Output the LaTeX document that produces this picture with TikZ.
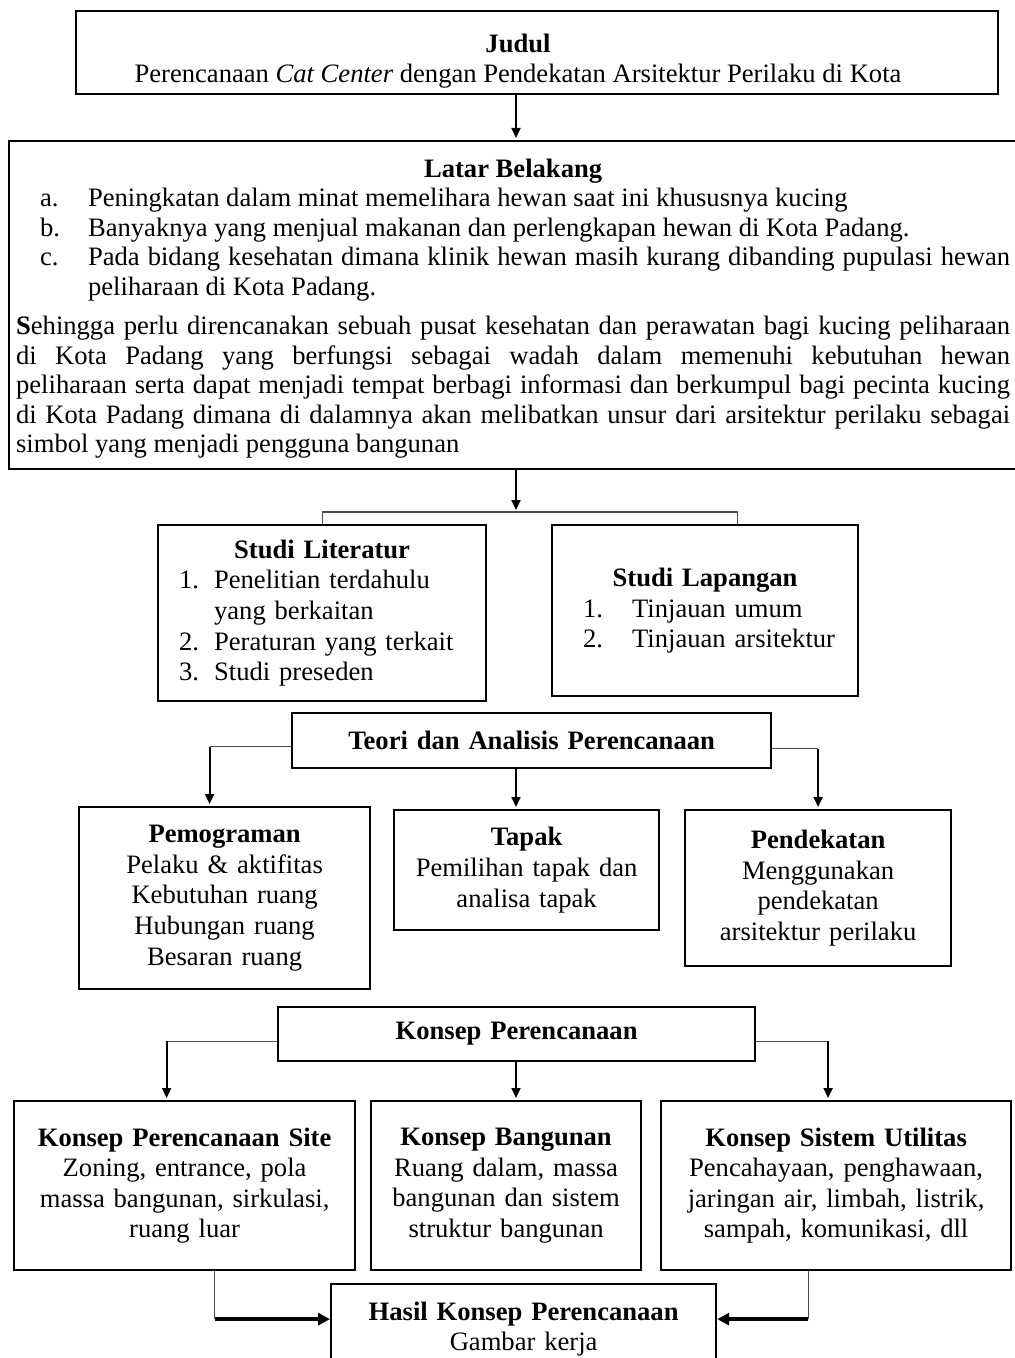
\documentclass[tikz,border=0pt]{standalone}
\usepackage{fontspec}
\setmainfont{Liberation Serif}
\usetikzlibrary{arrows.meta}

\newcommand{\listitem}[4]{\par\noindent\hangindent=#2\hangafter=1\hbox to #2{\hspace*{#1}#3\hfil}#4\par}

\tikzset{
  txt/.style={font=\fontsize{13.3pt}{15.3pt}\selectfont},
  box/.style={txt, draw, line width=1.1pt, inner sep=0pt, anchor=north west},
  link/.style={line width=0.6pt, black!70},
  arr/.style={line width=0.9pt, -{Triangle[length=5pt,width=4.5pt]}, shorten >=1pt},
  bigarr/.style={line width=1.8pt, -{Triangle[length=6pt,width=6pt]}}
}

\begin{document}
\begin{tikzpicture}[x=0.5pt, y=-0.5pt]
\useasboundingbox (0,0) rectangle (1014,1358);

% judul
\node[box, minimum width=461pt, minimum height=41.5pt] (judul) at (75,10) {};
\node[txt, align=center, inner sep=0pt] (judultext) at (518,61)
  {\textbf{Judul}\\Perencanaan \textit{Cat Center} dengan Pendekatan Arsitektur Perilaku di Kota};

\node[box, text width=497pt, inner xsep=3.5pt, minimum height=164pt, align=justify,
  font=\fontsize{13.3pt}{14.75pt}\selectfont] (latar) at (8,140) {%
  \tolerance=10000\hbadness=10000
  {\centering\rule{0pt}{13pt}\textbf{Latar Belakang}\par}
  \listitem{12pt}{36pt}{a.}{Peningkatan dalam minat memelihara hewan saat ini khususnya kucing}
  \listitem{12pt}{36pt}{b.}{Banyaknya yang menjual makanan dan perlengkapan hewan di Kota Padang.}
  \listitem{12pt}{36pt}{c.}{Pada bidang kesehatan dimana klinik hewan masih kurang dibanding pupulasi hewan peliharaan di Kota Padang.}
  \vspace{5pt}\noindent\textbf{S}ehingga perlu direncanakan sebuah pusat kesehatan dan perawatan bagi kucing peliharaan\linebreak
  di Kota Padang yang berfungsi sebagai wadah dalam memenuhi kebutuhan hewan\linebreak
  peliharaan serta dapat menjadi tempat berbagi informasi dan berkumpul bagi pecinta kucing\linebreak
  di Kota Padang dimana di dalamnya akan melibatkan unsur dari arsitektur perilaku sebagai\linebreak
  simbol yang menjadi pengguna bangunan\par};

% studi
\node[box, text width=164pt, minimum height=88pt, align=left] (lit) at (157,524) {%
  {\centering\textbf{Studi Literatur}\par}
  \listitem{10.5pt}{28pt}{1.}{Penelitian terdahulu\newline yang berkaitan}
  \listitem{10.5pt}{28pt}{2.}{Peraturan yang terkait}
  \listitem{10.5pt}{28pt}{3.}{Studi preseden}};
\node[box, text width=153pt, minimum height=85.5pt, align=left] (lap) at (551,524) {%
  {\centering\textbf{Studi Lapangan}\par}
  \listitem{15.5pt}{40pt}{1.}{Tinjauan umum}
  \listitem{15.5pt}{40pt}{2.}{Tinjauan arsitektur}};

% teori dan analisis
\node[box, text width=239.5pt, minimum height=27.5pt, align=center] (teori) at (291,712)
  {\textbf{Teori dan Analisis Perencanaan}};
\node[box, text width=145.5pt, minimum height=91pt, align=center] (pemo) at (78,806)
  {\textbf{Pemograman}\\Pelaku \& aktifitas\\Kebutuhan ruang\\Hubungan ruang\\Besaran ruang};
\node[box, text width=132.5pt, minimum height=60pt, align=center] (tapak) at (393,809)
  {\textbf{Tapak}\\Pemilihan tapak dan\\analisa tapak};
\node[box, text width=133pt, minimum height=78pt, align=center] (pend) at (684,809)
  {\textbf{Pendekatan}\\Menggunakan\\pendekatan\\arsitektur perilaku};

% konsep
\node[box, text width=238.5pt, minimum height=27pt, align=center] (konsep) at (277,1006)
  {\textbf{Konsep Perencanaan}};
\node[box, text width=170.5pt, minimum height=84.5pt, align=center] (site) at (13,1100)
  {\textbf{Konsep Perencanaan Site}\\Zoning, entrance, pola\\massa bangunan, sirkulasi,\\ruang luar};
\node[box, text width=135pt, minimum height=84.5pt, align=center] (bang) at (370,1100)
  {\textbf{Konsep Bangunan}\\Ruang dalam, massa\\bangunan dan sistem\\struktur bangunan};
\node[box, text width=175pt, minimum height=84.5pt, align=center] (util) at (660,1100)
  {\textbf{Konsep Sistem Utilitas}\\Pencahayaan, penghawaan,\\jaringan air, limbah, listrik,\\sampah, komunikasi, dll};
\node[box, text width=192.5pt, minimum height=45pt, align=center] (hasil) at (330,1283)
  {\textbf{Hasil Konsep Perencanaan}\\Gambar kerja};

% connectors
\coordinate (mid) at (516,0);
\coordinate (split) at (516,512);
\draw[arr] (mid |- judul.south) -- (mid |- latar.north);
\draw[arr] (mid |- latar.south) -- (split);
\draw[link] (lit.north) |- (split) -| ([xshift=16pt]lap.north);

\coordinate (tl) at ([yshift=-3pt]teori.west);
\coordinate (tr) at ([yshift=-4pt]teori.east);
\coordinate (pl) at ([xshift=-7.5pt]pemo.north);
\draw[link] (tl) -- (tl -| pl);
\draw[arr] (tl -| pl) -- (pl);
\draw[arr] (mid |- teori.south) -- (mid |- tapak.north);
\draw[link] (tr) -- (tr -| pend.north);
\draw[arr] (tr -| pend.north) -- (pend.north);

\coordinate (kl) at ([yshift=-3.5pt]konsep.west);
\coordinate (kr) at ([yshift=-3.5pt]konsep.east);
\coordinate (sl) at ([xshift=-9pt]site.north);
\coordinate (ul) at ([xshift=-4pt]util.north);
\draw[link] (kl) -- (kl -| sl);
\draw[arr] (kl -| sl) -- (sl);
\draw[arr] (mid |- konsep.south) -- (mid |- bang.north);
\draw[link] (kr) -- (kr -| ul);
\draw[arr] (kr -| ul) -- (ul);

\coordinate (hl) at ([yshift=5pt]hasil.west);
\coordinate (hr) at ([yshift=5pt]hasil.east);
\coordinate (sb) at ([xshift=15pt]site.south);
\coordinate (ub) at ([xshift=-14pt]util.south);
\draw[link] (sb) -- (sb |- hl);
\draw[bigarr] (sb |- hl) -- (hl);
\draw[link] (ub) -- (ub |- hr);
\draw[bigarr] (ub |- hr) -- (hr);
\end{tikzpicture}
\end{document}
